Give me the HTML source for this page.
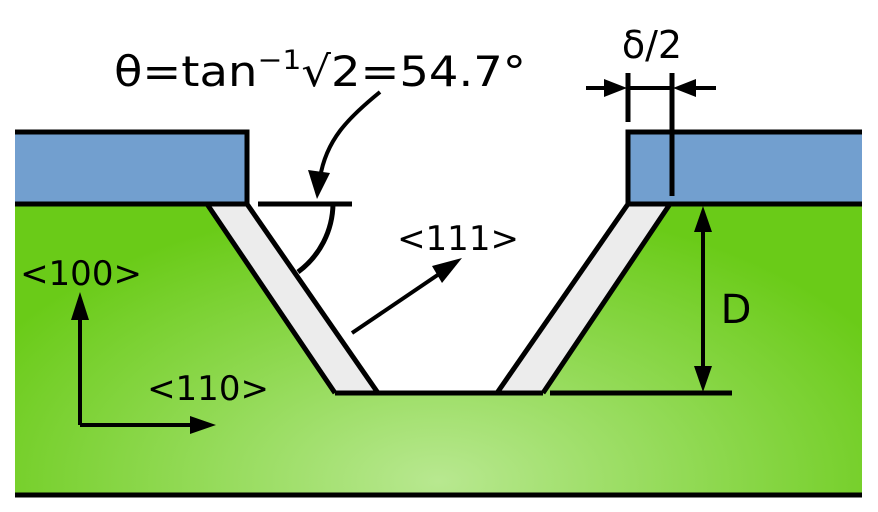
<!DOCTYPE html>
<html><head><meta charset="utf-8"><style>body{margin:0;background:#fff}svg{display:block}text{font-family:"DejaVu Sans","Liberation Sans",sans-serif;fill:#000}</style></head>
<body>
<svg width="878" height="512" viewBox="0 0 878 512" xmlns="http://www.w3.org/2000/svg">
<defs>
<radialGradient id="g" cx="0.5" cy="0.95" r="0.6" gradientTransform="translate(0.5 0.95) scale(1 1.6) translate(-0.5 -0.95)">
<stop offset="0" stop-color="#b8e890"/><stop offset="1" stop-color="#6acb18"/>
</radialGradient>
</defs>
<polygon points="15,204 207,204 335,393 543,393 670,204 862,204 862,496 15,496" fill="url(#g)"/>
<polygon points="207,204 247,204 378,393 335,393" fill="#ececec"/>
<polygon points="628,204 670,204 543,393 497,393" fill="#ececec"/>
<rect x="15" y="130" width="232" height="74" fill="#729fcf"/>
<rect x="628" y="130" width="234" height="74" fill="#729fcf"/>
<g stroke="#000" stroke-width="5" fill="none">
<polyline points="15,132 247,132 247,204"/>
<line x1="15" y1="204" x2="247" y2="204"/>
<polyline points="862,132 628,132 628,204"/>
<line x1="628" y1="204" x2="862" y2="204"/>
<line x1="207" y1="204" x2="335" y2="393"/>
<line x1="247" y1="204" x2="378" y2="393"/>
<line x1="628" y1="204" x2="497" y2="393"/>
<line x1="670" y1="204" x2="543" y2="393"/>
<line x1="335" y1="393" x2="543" y2="393"/>
<line x1="15" y1="495" x2="862" y2="495"/>
<line x1="258" y1="204" x2="352" y2="204"/>
<path d="M333,204 A86,86 0 0 1 298,272"/>
<line x1="550" y1="393" x2="732" y2="393"/>
<line x1="628" y1="73" x2="628" y2="122"/>
<line x1="672" y1="73" x2="672" y2="196"/>
</g>
<g stroke="#000" stroke-width="4" fill="none">
<path d="M380,92 C348,118 326,140 320,178"/>
<line x1="352" y1="333" x2="445" y2="270"/>
<line x1="80" y1="425" x2="80" y2="315"/>
<line x1="80" y1="425" x2="200" y2="425"/>
<line x1="703" y1="225" x2="703" y2="375"/>
<line x1="586" y1="88" x2="612" y2="88"/>
<line x1="628" y1="88" x2="672" y2="88"/>
<line x1="716" y1="88" x2="688" y2="88"/>
</g>
<g fill="#000">
<polygon points="317,199 308,170 330,173"/>
<polygon points="462,258 442,283 432,266"/>
<polygon points="80,292 71,320 89,320"/>
<polygon points="216,425 190,416 190,434"/>
<polygon points="703,206 694,232 712,232"/>
<polygon points="703,392 694,366 712,366"/>
<polygon points="627,88 604,79 604,97"/>
<polygon points="673,88 696,79 696,97"/>
</g>
<text x="114" y="86" font-size="42" textLength="412" lengthAdjust="spacingAndGlyphs">θ=tan<tspan font-size="27" dy="-17">−1</tspan><tspan dy="17">√2=54.7°</tspan></text>
<text x="652" y="58" font-size="38" text-anchor="middle">δ/2</text>
<text x="736" y="323" font-size="40" text-anchor="middle">D</text>
<text x="458" y="250" font-size="34" text-anchor="middle">&lt;111&gt;</text>
<text x="81" y="285" font-size="34" text-anchor="middle">&lt;100&gt;</text>
<text x="208" y="400" font-size="34" text-anchor="middle">&lt;110&gt;</text>
</svg>
</body></html>
